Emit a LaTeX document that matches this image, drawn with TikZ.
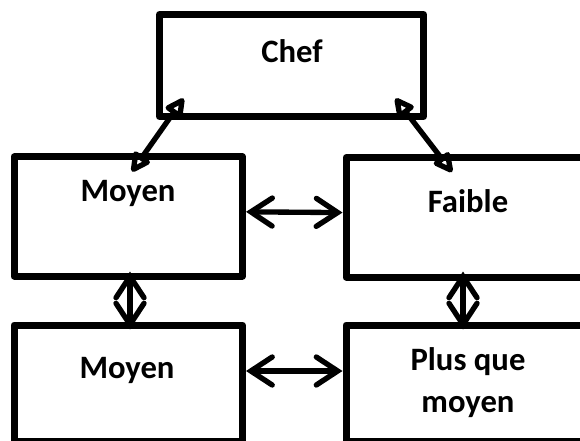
\documentclass[tikz,border=0pt]{standalone}
\usepackage{fontspec}
\setmainfont{Carlito}
\usetikzlibrary{arrows.meta}
\tikzset{
	poste/.style = {draw, line width=5.25pt, inner sep=0pt, line join=round},
	titre/.style = {font=\fontsize{24.5}{32}\selectfont\bfseries, inner sep=0pt},
	lien/.style  = {line width=4pt, line cap=round,
		{Straight Barb[length=16pt, width=21pt, line cap=round]}-{Straight Barb[length=16pt, width=21pt, line cap=round]}},
	lienchef/.style = {line width=4pt,
		{Triangle[open, length=17pt, width=16pt, line join=round]}-{Triangle[open, length=17pt, width=16pt, line join=round]}}
}
\begin{document}
\begin{tikzpicture}[x=0.75pt, y=-0.75pt]
	\useasboundingbox (0,0) rectangle (580,441);
	\clip (0,0) rectangle (580,441);
	\node[poste, minimum width=264pt*0.75, minimum height=102pt*0.75] (chef) at (291.5,65.5) {};
	\node[poste, minimum width=228.5pt*0.75, minimum height=119pt*0.75] (moyenA) at (128.25,216.5) {};
	\node[poste, minimum width=238pt*0.75, minimum height=119.5pt*0.75] (faible) at (465,217.25) {};
	\node[poste, minimum width=228.5pt*0.75, minimum height=116pt*0.75] (moyenB) at (128.25,383) {};
	\node[poste, minimum width=238pt*0.75, minimum height=116pt*0.75] (plus) at (465,383) {};

	\node[titre, anchor=base] (tchef) at (292,63) {Chef};
	\node[titre, anchor=base] (tmoyenA) at (128,202) {Moyen};
	\node[titre, anchor=base] (tfaible) at (468,213) {Faible};
	\node[titre, anchor=base] (tmoyenB) at (127,378.5) {Moyen};
	\node[titre, align=center] (tplus) at (468,382.5) {Plus que\\moyen};

	\draw[lienchef] ([shift={(3.75,18)}]moyenA.north) -- ([shift={(27.5,-21.5)}]chef.south west);
	\draw[lienchef] ([shift={(-13,18)}]faible.north) -- ([shift={(-31.5,-21.5)}]chef.south east);
	\draw[lien] ([yshift=3.5pt]moyenA.east) -- ([yshift=3.5pt]faible.west);
	\draw[lien] ([yshift=9pt]moyenB.east) -- ([yshift=9pt]plus.west);
	\draw[lien] ([shift={(1.75,-8)}]moyenA.south) -- ([shift={(1.75,8)}]moyenB.north);
	\draw[lien] ([shift={(-2,-9)}]faible.south) -- ([shift={(-2,8)}]plus.north);
\end{tikzpicture}
\end{document}
